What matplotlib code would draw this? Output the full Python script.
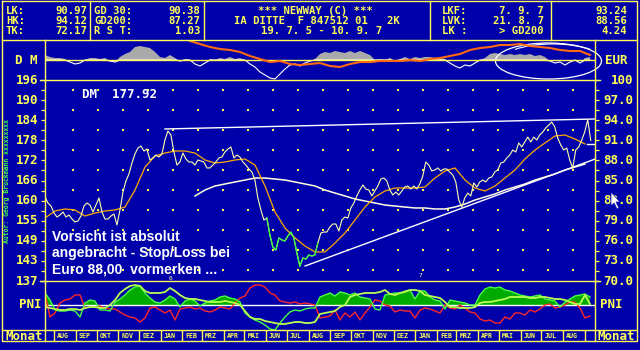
import datetime as dt
import numpy as np
import matplotlib
matplotlib.use('Agg')
import matplotlib.pyplot as plt
import matplotlib.transforms as mtrans
from matplotlib.patches import Ellipse, Arc, Polygon

# ---- data: Newway / IA DITTE, 19.7.2005 - 10.9.2007, prices in EUR ----
start = dt.date(2005, 7, 19)
ende = dt.date(2007, 9, 10)
DM_KURS = 1.95583

kurs_schritt = 4.3      # days between price samples
kurs = [
    82.54, 81.64, 81.19, 80.15, 79.55, 79.85, 80.30, 79.55, 79.85, 79.25,
    78.81, 78.96, 79.70, 81.19, 81.64, 81.34, 80.30, 81.34, 82.39, 80.30,
    79.25, 79.25, 79.70, 80.00, 78.36, 80.60, 83.28, 84.93, 85.97, 87.61,
    88.96, 89.85, 90.15, 89.40, 89.70, 88.06, 88.36, 88.81, 88.51, 88.96,
    91.04, 92.39, 91.79, 89.25, 87.31, 87.76, 89.10, 88.21, 87.76, 87.76,
    87.31, 88.06, 87.91, 87.76, 86.87, 86.87, 87.31, 87.76, 88.36, 88.51,
    89.25, 89.70, 90.00, 88.36, 88.81, 88.51, 87.76, 87.31, 86.72, 86.27,
    85.07, 82.39, 80.60, 79.10, 79.40, 76.87, 75.07, 74.63, 76.42, 76.12,
    75.97, 76.72, 77.31, 76.42, 74.18, 72.20, 73.43, 73.28, 73.88, 73.73,
    73.88, 75.67, 77.16, 77.31, 77.31, 78.06, 78.51, 78.51, 77.46, 79.10,
    79.55, 79.40, 80.90, 81.64, 82.69, 83.58, 84.33, 83.73, 83.58, 82.69,
    83.43, 84.18, 85.22, 85.37, 84.93, 83.58, 82.84, 83.28, 82.84, 83.43,
    84.03, 84.18, 83.73, 84.18, 83.73, 84.48, 85.67, 87.76, 87.31, 86.42,
    86.57, 86.87, 86.42, 86.72, 86.72, 86.27, 85.82, 84.78, 82.09, 81.04,
    82.39, 83.13, 82.69, 84.63, 84.03, 84.78, 85.07, 84.78, 85.37, 85.52,
    86.27, 86.57, 87.61, 87.76, 88.36, 88.81, 89.55, 89.25, 90.60, 90.00,
    90.75, 91.49, 90.75, 91.49, 91.04, 91.79, 92.24, 92.84, 93.28, 93.73,
    92.99, 91.34, 90.30, 89.55, 89.85, 88.06, 86.87, 89.55, 90.00, 91.04,
    92.24, 94.10, 90.97,
]
gruen_von, gruen_bis = 318, 392   # falling phase drawn in green (days)

gd_schritt = 14.34
gd30 = [
    79.40, 80.45, 80.75, 80.60, 79.70, 80.15, 80.45, 80.60, 81.04, 83.58,
    87.01, 88.66, 89.10, 89.40, 89.40, 89.10, 88.06, 87.61, 87.76, 88.06,
    88.21, 87.31, 84.18, 80.30, 77.91, 76.42, 75.22, 74.33, 74.33, 75.67,
    77.16, 79.10, 81.04, 82.54, 83.43, 83.88, 83.88, 83.88, 84.03, 85.37,
    86.42, 86.87, 85.07, 83.88, 83.43, 84.18, 85.37, 86.57, 88.21, 89.55,
    90.60, 91.64, 91.79, 91.19, 90.45,
]
gd200_start = 215.1
gd200 = [
    82.69, 83.58, 84.18, 84.48, 84.78, 85.07, 85.37, 85.37, 85.22, 85.07,
    84.78, 84.48, 84.18, 83.58, 83.13, 82.69, 82.24, 81.94, 81.64, 81.34,
    81.19, 81.04, 80.90, 80.90, 80.75, 80.75, 81.04, 81.49, 82.09, 82.54,
    82.99, 83.58, 84.03, 84.48, 85.07, 85.52, 85.97, 86.57, 87.01, 87.46,
]
gd30_letzt = 90.38

stuetz_tage, stuetz_eur = [373, 789], [72.24, 88.21]
widerstand_tage, widerstand_eur = [172, 789], [92.69, 94.18]

# relative strength panel (D M / EUR), index units
idx_schritt = 7.17
rs = [
    5, 3, 2, 2, 1, -2, -4, -3, 0, 2,
    2, 1, 2, -1, -2, 3, 6, 8, 13, 14,
    13, 12, 8, 3, 2, 5, 2, -1, 1, 0,
    -4, -6, -3, 1, 0, 2, 1, 3, 1, 2,
    0, -4, -7, -12, -15, -18, -19, -14, -9, -5,
    -4, -6, -3, -1, 1, 6, 8, 7, 9, 8,
    7, 9, 7, 9, 7, 5, 0, 1, 0, 2,
    -1, 1, 3, 1, 3, 2, 3, 3, 2, 2,
    1, -3, -6, -8, -5, -6, -3, 0, 2, 6,
    7, 6, 5, 6, 5, 6, 5, 6, 4, 5,
    3, -1, -3, -2, -5, -2, 0, -3, 2, 3,
]
rs_gd_start = 208
rs_gd = [
    19, 16, 13, 11, 10, 8, 4, 1, -2, -1,
    -4, -5, -4, -3, -6, -7, -4, -2, -2, -1,
    -1, -1, 0, -1, 1, 2, 4, 6, 10, 12,
    13, 15, 15, 16, 14, 13, 12, 10, 9, 9,
    5,
]

# PNI panel, index units
pni_gruen = [
    12, 5, -5, -6, -6, -5, -6, -12, 2, 5,
    4, -5, -5, -6, 3, 6, 10, 15, 18, 19,
    12, 7, 3, 2, 5, 9, 6, -2, 4, 6,
    4, -1, 2, 4, 5, 8, 9, 7, 6, 3,
    -8, -12, -15, -17, -20, -24, -25, -18, -12, -7,
    -5, -6, -4, -3, -3, 8, 10, 12, 9, 13,
    12, 10, 12, 8, 7, 6, -4, -5, 10, 11,
    12, 12, 14, 15, 6, 14, 14, 8, 5, 4,
    -4, 5, 4, 3, 2, 0, 0, 10, 16, 18,
    17, 18, 15, 14, 12, 10, 9, 8, 9, 10,
    6, 5, 4, -2, 3, 6, 9, 10, 11, 8,
]
pni_hell = [
    -2, -3, -4, -5, -5, -4, -4, -5, -3, -2,
    -2, -3, -3, 0, 5, 12, 16, 19, 20, 19,
    14, 12, 12, 12, 13, 17, 14, 10, 7, 6,
    6, 5, 4, 3, 3, 3, 4, 3, 2, 0,
    -6, -12, -14, -14, -16, -17, -18, -19, -19, -18,
    -17, -17, -18, -18, -17, -9, -8, -7, -6, -2,
    0, 8, 10, 11, 12, 12, 12, 13, 15, 11,
    10, 12, 13, 15, 15, 14, 10, 9, 8, 7,
    3, -2, -2, -3, -3, -3, -2, 2, 3, 3,
    4, 5, 6, 8, 8, 8, 8, 7, 7, 8,
    8, 7, 6, 6, 5, 3, 1, 1, 10, 1,
]
pni_rot = [
    12, -12, -8, 2, 5, 6, 10, 10, -3, -2,
    -2, -1, -3, -4, -4, -7, -10, -12, -13, -17,
    -13, -3, -2, -5, -8, -5, -15, -4, -3, -2,
    -4, -3, -6, -7, -5, -2, -3, -4, 2, 7,
    9, 17, 20, 20, 18, 12, 10, 4, 3, 2,
    3, 1, 2, 1, 0, -13, -12, -11, -5, -15,
    -8, -12, -7, -15, -8, -2, 5, 4, 0, -1,
    -7, -5, -6, -6, -13, -5, -3, -4, -6, -8,
    0, -3, -4, 0, -3, -7, -8, -14, -16, -15,
    -18, -18, -12, -14, -8, -8, -10, -5, -7, -4,
    0, 1, -3, -2, 0, 3, 3, -3, -13, -11,
]

monate = ['JAN', 'FEB', 'MRZ', 'APR', 'MAI', 'JUN',
          'JUL', 'AUG', 'SEP', 'OKT', 'NOV', 'DEZ']

kopf_links = [('LK:', '90.97'), ('HK:', '94.12'), ('TK:', '72.17')]
kopf_gd = [('GD 30:', '90.38'), ('GD200:', '87.27'), ('R S T:', '1.03')]
kopf_titel = ['*** NEWWAY (C) ***', 'IA DITTE  F 847512 01   2K',
              '19. 7. 5 - 10. 9. 7']
kopf_datum = [('LKF:', '7. 9. 7'), ('LVK:', '21. 8. 7'), ('LK :', '> GD200')]
kopf_rechts = ['93.24', '88.56', '4.24']
hinweis = ['Vorsicht ist absolut', 'angebracht - Stop/Loss bei',
           'Euro 88,00  vormerken ...']

# ---- colours ----
BLAU = '#0000AA'
GELB = '#FFFF55'
HELLGELB = '#FFFFAA'
WEISS = '#FFFFFF'
ORANGE = '#FFAA00'
MONO = 'DejaVu Sans Mono'

kurs = np.array(kurs)
t_kurs = np.arange(len(kurs)) * kurs_schritt
t_gd30 = np.arange(len(gd30)) * gd_schritt
t_gd200 = gd200_start + np.arange(len(gd200)) * gd_schritt
t_idx = np.arange(len(rs)) * idx_schritt
t_rsgd = rs_gd_start + np.arange(len(rs_gd)) * gd_schritt
x_ende = (ende - start).days * 550 / 546

W, H = 640.0, 350.0


def rect(x0, y0, x1, y1):
    return [x0 / W, 1 - y1 / H, (x1 - x0) / W, (y1 - y0) / H]


fig = plt.figure(figsize=(6.4, 3.5), dpi=100)
fig.patch.set_facecolor(BLAU)


def panel(r):
    a = fig.add_axes(r)
    a.set_facecolor('none')
    a.set_xlim(0, x_ende)
    for s in a.spines.values():
        s.set_visible(False)
    a.set_xticks([])
    a.set_yticks([])
    return a


# ---- D M / EUR panel ----
ax_dm = panel(rect(45, 40, 595, 80))
ax_dm.set_ylim(-20, 20)
rs = np.array(rs)
ax_dm.fill_between(t_idx, 0, rs, where=rs > 0, interpolate=True,
                   color='#AAAAAA', lw=0)
ax_dm.plot(t_idx, np.minimum(rs, 0), color=WEISS, lw=0.8)
ax_dm.axhline(0, color=GELB, lw=1)
ax_dm.plot(t_rsgd, rs_gd, color='#FF6A10', lw=1.5)
ax_dm.add_patch(Ellipse((722, -1), 152, 36, fill=False, ec=WEISS, lw=0.9,
                        clip_on=False))
ax_dm.add_patch(Arc((728, 1), 140, 30, theta1=10, theta2=170, ec=WEISS,
                    lw=0.8, clip_on=False))

# ---- price panel ----
ax = panel(rect(45, 80, 595, 281))
ax.set_ylim(70, 100)
# dotted grid
gx = np.arange(39.7, x_ende, 35.85)
gy = np.arange(98.51, 70.5, -2.985)
GX, GY = np.meshgrid(gx, gy)
ax.scatter(GX.ravel(), GY.ravel(), s=1.3, marker='s', color=GELB, lw=0)

ax.plot(t_gd200, gd200, color='#FFFFE0', lw=1.1)
ax.plot(stuetz_tage, stuetz_eur, color=WEISS, lw=1.0)
ax.plot(widerstand_tage, widerstand_eur, color=WEISS, lw=1.0)
ax.plot(t_gd30, gd30, color=ORANGE, lw=0.9)
ax.plot(t_kurs, kurs, color=HELLGELB, lw=0.8)
gr = (t_kurs >= gruen_von) & (t_kurs <= gruen_bis)
ax.plot(t_kurs[gr], kurs[gr], color='#33FF33', lw=0.9)
ax.plot([t_kurs[-1] - 5, x_ende], [gd30_letzt] * 2, color=WEISS, lw=1)
ax.text(180, 70.4, '6', color=HELLGELB, fontsize=4.5, family=MONO,
        ha='center', va='center')
ax.text(539, 70.75, '7', color=HELLGELB, fontsize=4.5, family=MONO,
        ha='center', va='center')

ax.set_yticks(np.arange(70, 100.1, 3))
ax.set_yticks(np.arange(71.5, 100, 3), minor=True)
ax.tick_params(axis='y', which='both', left=True, right=True,
               labelleft=False, labelright=False, direction='out',
               length=3.2, width=0.9, color=GELB)
ax.tick_params(axis='x', bottom=False)

lab_tr = mtrans.blended_transform_factory(fig.transFigure, ax.transData)
for v in np.arange(70, 100.1, 3):
    ax.text(633 / W, v, '%d' % v if v >= 100 else '%.1f' % v,
            transform=lab_tr, ha='right', va='center', color=GELB,
            fontsize=9, family=MONO, fontweight='bold', clip_on=False)
    ax.text(38 / W, v, '%d' % round(v * DM_KURS), transform=lab_tr,
            ha='right', va='center', color=GELB, fontsize=9, family=MONO,
            fontweight='bold', clip_on=False)

# ---- PNI panel ----
ax_p = panel(rect(45, 281, 595, 330))
ax_p.set_ylim(-25, 24)
pg = np.array(pni_gruen)
ax_p.fill_between(t_idx, 0, pg, where=pg > 0, interpolate=True,
                  color='#00AA00', lw=0)
ax_p.axhline(0, color=WEISS, lw=1)
ax_p.plot(t_idx, pni_rot, color='#FF2828', lw=1)
ax_p.plot(t_idx, pni_gruen, color='#44FF44', lw=1)
ax_p.plot(t_idx, pni_hell, color='#B8FF50', lw=1.3)

# ---- month bar ----
ax_m = panel(rect(45, 330, 595, 341))
ax_m.set_ylim(0, 1)
grenzen = []
j, m = 2005, 8
while dt.date(j, m, 1) <= ende:
    grenzen.append(((dt.date(j, m, 1) - start).days, monate[m - 1]))
    m += 1
    if m > 12:
        j, m = j + 1, 1
for i, (tag, name) in enumerate(grenzen):
    ax_m.axvline(tag, color=GELB, lw=1)
    if i < len(grenzen) - 1:
        ax_m.annotate(name, (tag, 0.45), xytext=(2.2, 0),
                      textcoords='offset points', ha='left', va='center',
                      color=GELB, fontsize=4.8, family=MONO,
                      fontweight='bold')

# ---- frame, header and texts ----
deko = fig.add_axes([0, 0, 1, 1])
deko.set_xlim(0, W)
deko.set_ylim(H, 0)
deko.axis('off')
deko.set_zorder(10)
lk = dict(color=GELB, lw=1)
deko.plot([2, 637, 637, 2, 2], [0.5, 0.5, 341, 341, 0.5], **lk)
for yy in (40, 330):
    deko.plot([2, 637], [yy, yy], **lk)
for xx in (90, 204, 430, 551):
    deko.plot([xx, xx], [0.5, 40], **lk)
for xx in (45, 595):
    deko.plot([xx, xx], [40, 341], **lk)
for yy in (80, 281):
    deko.plot([40, 600], [yy, yy], **lk)

kt = dict(color=GELB, fontsize=7.6, family=MONO, fontweight='bold',
          va='center')
zeilen = [10.5, 21, 31.5]
for y, (a, b) in zip(zeilen, kopf_links):
    deko.text(6, y, a, ha='left', **kt)
    deko.text(87, y, b, ha='right', **kt)
for y, (a, b) in zip(zeilen, kopf_gd):
    deko.text(94, y, a, ha='left', **kt)
    deko.text(200, y, b, ha='right', **kt)
for y, s, xm in zip(zeilen, kopf_titel, (315, 317, 322)):
    deko.text(xm, y, s, ha='center', **kt)
for y, (a, b) in zip(zeilen, kopf_datum):
    deko.text(442, y, a, ha='left', **kt)
    deko.text(544, y, b, ha='right', **kt)
for y, b in zip(zeilen, kopf_rechts):
    deko.text(627, y, b, ha='right', **kt)

lt = dict(color=GELB, fontsize=9, family=MONO, fontweight='bold',
          va='center')
deko.text(15, 60, 'D M', ha='left', **lt)
deko.text(605, 60, 'EUR', ha='left', **lt)
deko.text(42, 305, 'PNI', ha='right', **lt)
deko.text(600, 305, 'PNI', ha='left', **lt)
deko.text(5, 336, 'Monat', ha='left', **lt)
deko.text(597, 336, 'Monat', ha='left', **lt)
deko.text(82, 95, 'DM  177.92', ha='left', color=WEISS, fontsize=9,
          family=MONO, fontweight='bold', va='center')
deko.text(6.5, 243, 'Autor: Georg Bruckmann xxxxxxxxx', rotation=90,
          ha='left', va='center', color='#44FF44', fontsize=4.7,
          family=MONO, fontweight='bold', rotation_mode='anchor')
for y, s in zip([237, 253, 270], hinweis):
    deko.text(52, y, s, ha='left', va='center', color=WEISS, fontsize=10,
              fontweight='bold',
              family=['Liberation Sans Narrow', 'Liberation Sans'])
deko.add_patch(Polygon([(611, 192), (611, 206), (614, 203), (617, 209),
                        (619, 208), (616, 202), (620, 202)],
                       closed=True, fc=WEISS, ec=BLAU, lw=0.5))

fig.savefig('out.png', dpi=100, facecolor=BLAU)
